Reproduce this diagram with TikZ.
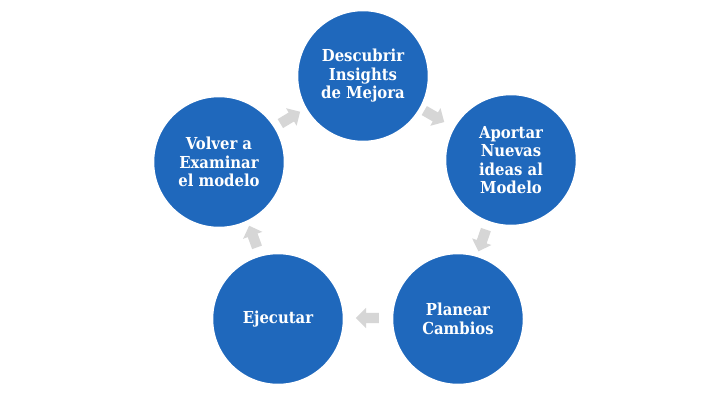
\documentclass[tikz,border=0pt]{standalone}
\usepackage{fontspec}
\setmainfont{DejaVu Serif}
\newfontfamily\boxfont{DejaVu Serif Condensed}
\usetikzlibrary{shapes.arrows,calc}
\definecolor{cblue}{RGB}{31,104,188}
\definecolor{agray}{RGB}{214,214,214}
\begin{document}
\begin{tikzpicture}[x=1pt,y=1pt,
  stage/.style={circle, fill=cblue, draw=white, line width=1.5pt, minimum size=131pt,
    inner sep=0pt, text=white, font=\boxfont\bfseries\fontsize{16.5}{18.5}\selectfont, align=center},
  garrow/.style={single arrow, fill=agray, draw=none, inner xsep=0pt, inner ysep=5pt,
    minimum height=23pt, single arrow head extend=5pt}]
\useasboundingbox (0,0) rectangle (720,400);
\fill[white] (0,0) rectangle (720,400);
\node[stage] (t)  at (363,324) {Descubrir\\Insights\\de Mejora};
\node[stage] (r)  at (511,240) {Aportar\\Nuevas\\ideas al\\Modelo};
\node[stage] (br) at (458,81)  {Planear\\Cambios};
\node[stage] (bl) at (278,81)  {Ejecutar};
\node[stage] (l)  at (219,238) {Volver a\\Examinar\\el modelo};
\node[garrow, rotate=-30]  (a1) at (432,285) {};
\node[garrow, rotate=-109] (a2) at (483,162) {};
\node[garrow, rotate=180]  (a3) at (370,82)  {};
\node[garrow, rotate=110]  (a4) at (254,161) {};
\node[garrow, rotate=31]   (a5) at (288,281) {};
\end{tikzpicture}
\end{document}
